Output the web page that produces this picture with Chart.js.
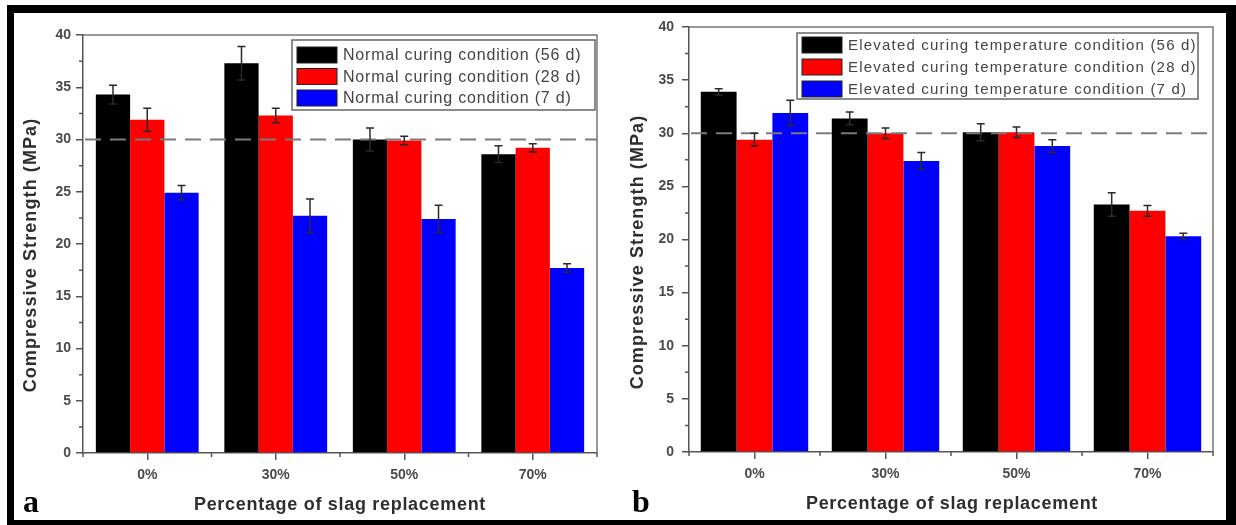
<!DOCTYPE html>
<html>
<head>
<meta charset="utf-8">
<script src="https://cdn.jsdelivr.net/npm/chart.js@4.4.0/dist/chart.umd.min.js"></script>
<style>
  html, body { margin: 0; padding: 0; background: #fff; }
  body { width: 1236px; height: 525px; position: relative; overflow: hidden; }
  .panel { position: absolute; top: 0; width: 618px; height: 525px; }
  #panelA { left: 0; }
  #panelB { left: 618px; }
  .frame {
    position: absolute; left: 7px; top: 5px; right: 0; bottom: 0;
    border-style: solid; border-color: #000; border-width: 8px 10px 5px 7px;
    pointer-events: none;
  }
</style>
</head>
<body>
<div class="panel" id="panelA"><canvas id="chartA"></canvas></div>
<div class="panel" id="panelB"><canvas id="chartB"></canvas></div>
<div class="frame"></div>

<script>
// data
const categories = ["0%", "30%", "50%", "70%"]

const normal56 = [34.3, 37.3, 30.0, 28.6]
const normal28 = [31.9, 32.3, 29.9, 29.2]
const normal7 = [24.9, 22.7, 22.4, 17.7]
const normal56Err = [0.9, 1.6, 1.1, 0.8]
const normal28Err = [1.1, 0.7, 0.4, 0.4]
const normal7Err = [0.7, 1.6, 1.3, 0.4]

const elevated56 = [33.9, 31.4, 30.1, 23.3]
const elevated28 = [29.4, 30.0, 30.1, 22.7]
const elevated7 = [31.9, 27.4, 28.8, 20.3]
const elevated56Err = [0.3, 0.6, 0.8, 1.1]
const elevated28Err = [0.6, 0.5, 0.5, 0.5]
const elevated7Err = [1.2, 0.8, 0.6, 0.3]

const normalLabels = ["Normal curing condition (56 d)", "Normal curing condition (28 d)", "Normal curing condition (7 d)"]
const elevatedLabels = [
  "Elevated curing temperature condition (56 d)",
  "Elevated curing temperature condition (28 d)",
  "Elevated curing temperature condition (7 d)",
]

const targetStrength = 30
const yMax = 40
const yStep = 5

const seriesColors = ["#000000", "#ff0000", "#0000ff"]
const axisColor = "#555"
const sans = "'Liberation Sans', Arial, sans-serif"

// dashed 30 MPa line over the bars
const targetLine = {
  id: "targetLine",
  afterDatasetsDraw(chart) {
    const { ctx, chartArea: a, scales: { y } } = chart
    const py = y.getPixelForValue(targetStrength)
    ctx.save()
    ctx.strokeStyle = "#7a7a7a"
    ctx.lineWidth = 2
    ctx.setLineDash([16, 9])
    ctx.beginPath()
    ctx.moveTo(a.left + 2, py)
    ctx.lineTo(a.right, py)
    ctx.stroke()
    ctx.restore()
  },
}

const errorBars = {
  id: "errorBars",
  afterDatasetsDraw(chart) {
    const { ctx, scales: { y } } = chart
    ctx.save()
    ctx.strokeStyle = "#2a2a2a"
    ctx.lineWidth = 1.5
    chart.data.datasets.forEach((ds, i) => {
      chart.getDatasetMeta(i).data.forEach((bar, j) => {
        const top = y.getPixelForValue(ds.data[j] + ds.errors[j])
        const bot = y.getPixelForValue(ds.data[j] - ds.errors[j])
        ctx.beginPath()
        ctx.moveTo(bar.x, top)
        ctx.lineTo(bar.x, bot)
        ctx.moveTo(bar.x - 4, top)
        ctx.lineTo(bar.x + 4, top)
        ctx.moveTo(bar.x - 4, bot)
        ctx.lineTo(bar.x + 4, bot)
        ctx.stroke()
      })
    })
    ctx.restore()
  },
}

// top/right box lines and minor ticks
const frameTicks = {
  id: "frameTicks",
  afterDraw(chart) {
    const { ctx, chartArea: a, scales: { x, y } } = chart
    ctx.save()
    ctx.strokeStyle = "#777"
    ctx.lineWidth = 1.5
    ctx.beginPath()
    ctx.moveTo(a.left, a.top)
    ctx.lineTo(a.right, a.top)
    ctx.lineTo(a.right, a.bottom)
    ctx.stroke()

    ctx.strokeStyle = axisColor
    ctx.beginPath()
    for (let v = yStep / 2; v < yMax; v += yStep) {
      const py = y.getPixelForValue(v)
      ctx.moveTo(a.left, py)
      ctx.lineTo(a.left - 4, py)
    }
    for (let i = 0; i <= categories.length; i++) {
      const px = x.getPixelForValue(i - 0.5)
      ctx.moveTo(px, a.bottom)
      ctx.lineTo(px, a.bottom + 4)
    }
    ctx.stroke()
    ctx.restore()
  },
}

const boxLegend = {
  id: "boxLegend",
  afterDraw(chart, args, opts) {
    const { ctx } = chart
    ctx.save()
    ctx.fillStyle = "#fff"
    ctx.fillRect(opts.x, opts.y, opts.w, opts.h)
    ctx.strokeStyle = "#666"
    ctx.lineWidth = 1.5
    ctx.strokeRect(opts.x, opts.y, opts.w, opts.h)
    ctx.font = opts.font
    ctx.letterSpacing = opts.spacing
    ctx.textBaseline = "middle"
    chart.data.datasets.forEach((ds, i) => {
      const cy = opts.firstRow + i * opts.rowGap
      ctx.fillStyle = ds.backgroundColor
      ctx.fillRect(opts.x + 5, cy - 8, 40, 16)
      ctx.strokeStyle = "#222"
      ctx.lineWidth = 1
      ctx.strokeRect(opts.x + 5, cy - 8, 40, 16)
      ctx.fillStyle = "#444"
      ctx.fillText(ds.label, opts.x + opts.textX, cy + 1)
    })
    ctx.restore()
  },
}

const panelText = {
  id: "panelText",
  afterDraw(chart, args, opts) {
    const { ctx } = chart
    ctx.save()
    ctx.fillStyle = "#2e2e2e"
    ctx.textAlign = "center"
    ctx.textBaseline = "middle"
    ctx.font = "bold 18px " + sans

    ctx.letterSpacing = "0.7px"
    ctx.fillText("Percentage of slag replacement", opts.xTitle[0], opts.xTitle[1])

    ctx.letterSpacing = "1.1px"
    ctx.translate(opts.yTitle[0], opts.yTitle[1])
    ctx.rotate(-Math.PI / 2)
    ctx.fillText("Compressive Strength (MPa)", 0, 0)
    ctx.restore()

    ctx.save()
    ctx.fillStyle = "#000"
    ctx.font = "bold 32px 'Liberation Serif', 'Times New Roman', serif"
    ctx.textBaseline = "alphabetic"
    ctx.fillText(opts.letter, opts.letterPos[0], opts.letterPos[1])
    ctx.restore()
  },
}

function makeChart(canvasId, values, errors, labels, cfg) {
  const datasets = values.map((data, i) => ({
    label: labels[i],
    data: data,
    errors: errors[i],
    backgroundColor: seriesColors[i],
    borderWidth: 0,
    categoryPercentage: cfg.groupWidth,
    barPercentage: 1.0,
  }))

  return new Chart(document.getElementById(canvasId), {
    type: "bar",
    data: { labels: categories, datasets: datasets },
    options: {
      responsive: true,
      maintainAspectRatio: false,
      animation: false,
      layout: { padding: { top: cfg.top, right: cfg.right, left: 0, bottom: 0 } },
      plugins: {
        legend: { display: false },
        tooltip: { enabled: false },
        boxLegend: cfg.legend,
        panelText: cfg.text,
      },
      scales: {
        x: {
          grid: { offset: false, drawOnChartArea: false, tickLength: 7, color: axisColor, lineWidth: 1.5 },
          border: { color: axisColor, width: 1.5 },
          ticks: { color: "#4a4a4a", padding: 7, font: { family: sans, size: 14, weight: "bold" } },
          afterFit: (s) => { s.height = cfg.xAxisHeight },
        },
        y: {
          min: 0,
          max: yMax,
          grid: { drawOnChartArea: false, tickLength: 7, color: axisColor, lineWidth: 1.5 },
          border: { color: axisColor, width: 1.5 },
          ticks: { stepSize: yStep, color: "#4a4a4a", padding: cfg.yPad, font: { family: sans, size: 14, weight: "bold" } },
          afterFit: (s) => { s.width = cfg.yAxisWidth },
        },
      },
    },
    plugins: [targetLine, errorBars, frameTicks, boxLegend, panelText],
  })
}

makeChart("chartA", [normal56, normal28, normal7], [normal56Err, normal28Err, normal7Err], normalLabels, {
  top: 35, right: 21, yAxisWidth: 83, xAxisHeight: 72, yPad: 5, groupWidth: 0.8,
  legend: { x: 292, y: 40, w: 303, h: 70, firstRow: 55, rowGap: 21.5, textX: 51, font: "16px " + sans, spacing: "0.8px" },
  text: { xTitle: [340, 505], yTitle: [31, 255], letter: "a", letterPos: [23, 512] },
})

makeChart("chartB", [elevated56, elevated28, elevated7], [elevated56Err, elevated28Err, elevated7Err], elevatedLabels, {
  top: 27, right: 23, yAxisWidth: 71, xAxisHeight: 73, yPad: 8, groupWidth: 0.82,
  legend: { x: 179, y: 33, w: 401, h: 66, firstRow: 45, rowGap: 22, textX: 51, font: "15px " + sans, spacing: "1.2px" },
  text: { xTitle: [334, 504], yTitle: [20, 252], letter: "b", letterPos: [14, 512] },
})
</script>
</body>
</html>
